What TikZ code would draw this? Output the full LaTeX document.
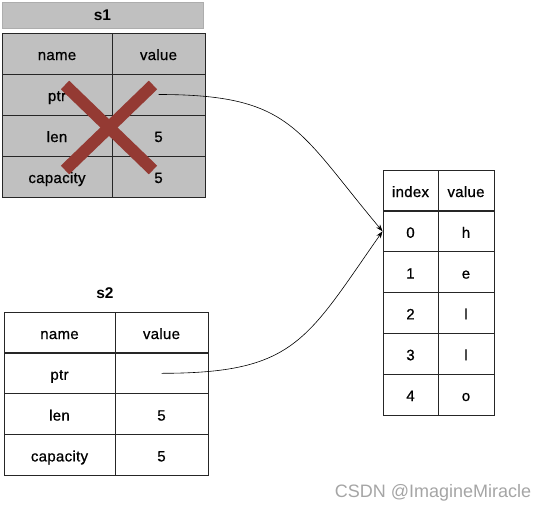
\documentclass[tikz,border=0pt]{standalone}
\usepackage{fontspec}
\setmainfont{Liberation Sans}
\newfontfamily\cellfont[FakeBold=0.7, LetterSpace=2]{Liberation Sans}
\usetikzlibrary{arrows.meta}
\definecolor{cellgray}{RGB}{192,192,192}
\definecolor{crossred}{RGB}{148,58,51}
\definecolor{markgray}{RGB}{165,165,165}
\begin{document}
\begin{tikzpicture}[x=1pt, y=-1pt,
    cell/.style={draw=black!85, line width=0.9pt, inner sep=0pt, minimum height=41pt, text height=13pt, text depth=0pt, font=\cellfont\fontsize{15}{17}\selectfont},
    title/.style={inner sep=0pt, font=\fontsize{15.5}{17}\selectfont\bfseries},
    ptrline/.style={draw=black, line width=0.6pt, -{Stealth[length=7pt,width=5pt]}},
    cross/.style={crossred, line width=12pt}]
  \useasboundingbox (0,0) rectangle (544,514);
  % s1 (moved-from string, greyed out)
  \node[title, fill=cellgray, draw=cellgray!90!black, line width=0.4pt, minimum width=201pt, minimum height=26pt] (s1title) at (102.5,15) {s1};
  \foreach \n/\v [count=\i from 0] in {name/value, ptr/{}, len/5, capacity/5} {
    \node[cell, fill=cellgray, minimum width=110pt] (s1n\i) at (57,{53.5+41*\i}) {\n};
    \node[cell, fill=cellgray, minimum width=93pt] (s1v\i) at (158.5,{53.5+41*\i}) {\v};
  }
  \draw[cross] (65,85) -- (153,170);
  \draw[cross] (153,85) -- (65,170);
  % s2
  \node[title] (s2title) at (105,293) {s2};
  \foreach \n/\v [count=\i from 0] in {name/value, ptr/{}, len/5, capacity/5} {
    \node[cell, minimum width=111pt] (s2n\i) at (59.5,{332.5+40.8*\i}) {\n};
    \node[cell, minimum width=93pt] (s2v\i) at (161.5,{332.5+40.8*\i}) {\v};
  }
  % heap buffer
  \foreach \k/\c [count=\i from 0] in {index/value, 0/h, 1/e, 2/l, 3/l, 4/o} {
    \node[cell, minimum width=55pt] (arr\i) at (410.5,{190.5+40.8*\i}) {\k};
    \node[cell, minimum width=56pt] (arrv\i) at (466,{190.5+40.8*\i}) {\c};
  }
  % pointers
  \draw[ptrline] (s1v1.center) to[out=0, in=130, looseness=1.3] (arr1.west);
  \draw[ptrline] (s2v1.center) to[out=0, in=235, looseness=1.3] (arr1.west);
  \node[markgray, font=\fontsize{18}{20}\selectfont] (mark) at (433,493) {CSDN @ImagineMiracle};
\end{tikzpicture}
\end{document}
